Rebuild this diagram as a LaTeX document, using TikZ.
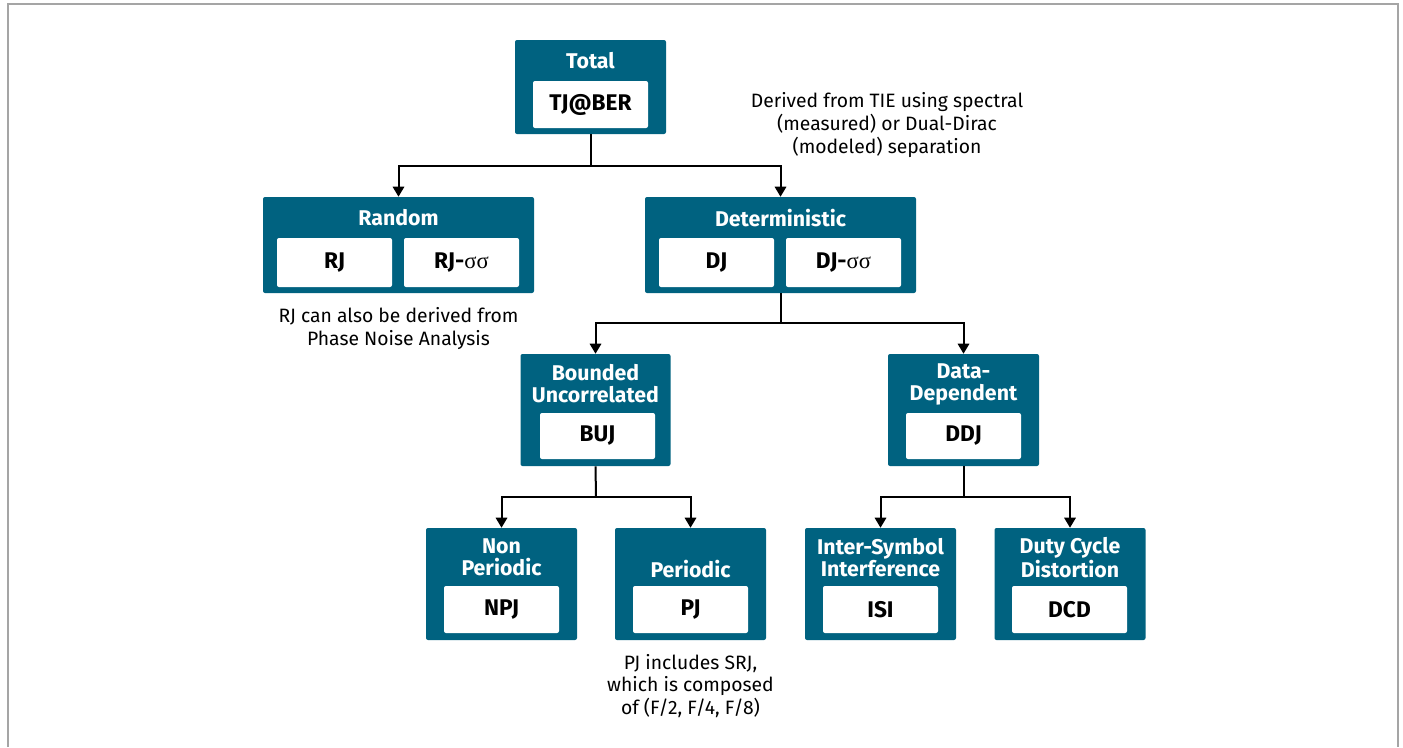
\documentclass[tikz,border=0pt]{standalone}
\usepackage{fontspec}
\setmainfont{Fira Sans}
\newfontfamily\greekserif{Liberation Serif}
\usetikzlibrary{arrows.meta}
\definecolor{jitterblue}{RGB}{0,98,128}
\definecolor{framegray}{RGB}{165,165,165}
\begin{document}
\begin{tikzpicture}[x=0.75pt, y=-0.75pt,
		outer_style/.style={rectangle, fill=jitterblue, rounded corners=1.5pt, inner sep=0pt},
		inner_style/.style={rectangle, fill=white, rounded corners=1.5pt, inner sep=0pt,
			minimum width=86.25pt, font=\fontsize{17}{18}\selectfont\bfseries},
		title_style/.style={text=white, align=center, font=\fontsize{16}{16.5}\selectfont\bfseries},
		note_style/.style={align=center, font=\fontsize{14.5}{17}\selectfont},
		edge_style/.style={draw=black, line width=1.5pt},
		arrow_style/.style={edge_style, -{Triangle[width=8.5pt,length=7.5pt]}}]

		\useasboundingbox (0,0) rectangle (1403,747);
		\draw[framegray, line width=1.5pt] (8,747) -- (8,4) -- (1398,4) -- (1398,747);

		% outer boxes
		\node[outer_style, minimum width=113.25pt, minimum height=70.5pt] (total) at (590.5,87) {};
		\node[outer_style, minimum width=203.25pt, minimum height=72pt] (random) at (398.5,245) {};
		\node[outer_style, minimum width=203.25pt, minimum height=72pt] (determ) at (780.5,245) {};
		\node[outer_style, minimum width=112.5pt, minimum height=84pt] (bounded) at (595.5,410) {};
		\node[outer_style, minimum width=113.25pt, minimum height=84pt] (datadep) at (963.5,410) {};
		\node[outer_style, minimum width=113.25pt, minimum height=84pt] (nonper) at (501.5,584) {};
		\node[outer_style, minimum width=113.25pt, minimum height=84pt] (periodic) at (690.5,584) {};
		\node[outer_style, minimum width=113.25pt, minimum height=84pt] (intersym) at (880.5,584) {};
		\node[outer_style, minimum width=113.25pt, minimum height=84pt] (dutycyc) at (1070,584) {};

		% titles
		\node[title_style] (t_total) at (590.5,61) {Total};
		\node[title_style] (t_random) at (398.5,218) {Random};
		\node[title_style] (t_determ) at (780.5,218) {Deterministic};
		\node[title_style] (t_bounded) at (595.5,383.5) {Bounded\\Uncorrelated};
		\node[title_style] (t_datadep) at (963.5,384.5) {Data-\\Dependent};
		\node[title_style] (t_nonper) at (501.5,557.5) {Non\\Periodic};
		\node[title_style] (t_periodic) at (690.5,569) {Periodic};
		\node[title_style] (t_intersym) at (880.5,557.5) {Inter-Symbol\\Interference};
		\node[title_style] (t_dutycyc) at (1070,557.5) {Duty Cycle\\Distortion};

		% inner boxes
		\node[inner_style, minimum height=35.25pt] (tj) at (590.5,104.5) {TJ@BER};
		\node[inner_style, minimum height=36.75pt] (rj) at (334.5,262.5) {RJ};
		\node[inner_style, minimum height=36.75pt] (rjs) at (461.5,262.5) {RJ-{\greekserif\mdseries σσ}};
		\node[inner_style, minimum height=36.75pt] (dj) at (716.5,262.5) {DJ};
		\node[inner_style, minimum height=36.75pt] (djs) at (843.5,262.5) {DJ-{\greekserif\mdseries σσ}};
		\node[inner_style, minimum height=34.5pt] (buj) at (597.5,436) {BUJ};
		\node[inner_style, minimum height=34.5pt] (ddj) at (963.5,436) {DDJ};
		\node[inner_style, minimum height=35.25pt] (npj) at (501.5,609.5) {NPJ};
		\node[inner_style, minimum height=35.25pt] (pj) at (690.5,609.5) {PJ};
		\node[inner_style, minimum height=35.25pt] (isi) at (880.5,609.5) {ISI};
		\node[inner_style, minimum height=35.25pt] (dcd) at (1069.5,609.5) {DCD};

		% notes
		\node[note_style] (n_tie) at (887,125) {Derived from TIE using spectral\\(measured) or Dual-Dirac\\(modeled) separation};
		\node[note_style] (n_rj) at (398.5,328.5) {RJ can also be derived from\\Phase Noise Analysis};
		\node[note_style] (n_pj) at (690.5,686) {PJ includes SRJ,\\which is composed\\of (F/2, F/4, F/8)};

		% connectors
		\coordinate (j_total) at (590.5,166);
		\coordinate (j_determ) at (780.5,323);
		\coordinate (j_bounded) at (596,497);
		\coordinate (j_datadep) at (963.5,497);

		\draw[edge_style] (total.south) -- (j_total);
		\draw[arrow_style] (j_total) -| (random.north);
		\draw[arrow_style] (j_total) -| (determ.north);
		\draw[edge_style] (determ.south) -- (j_determ);
		\draw[arrow_style] (j_determ) -| (bounded.north);
		\draw[arrow_style] (j_determ) -| (datadep.north);
		\draw[edge_style] (bounded.south) -- (j_bounded);
		\draw[arrow_style] (j_bounded) -| (nonper.north);
		\draw[arrow_style] (j_bounded) -| (periodic.north);
		\draw[edge_style] (datadep.south) -- (j_datadep);
		\draw[arrow_style] (j_datadep) -| (intersym.north);
		\draw[arrow_style] (j_datadep) -| (dutycyc.north);

\end{tikzpicture}
\end{document}
